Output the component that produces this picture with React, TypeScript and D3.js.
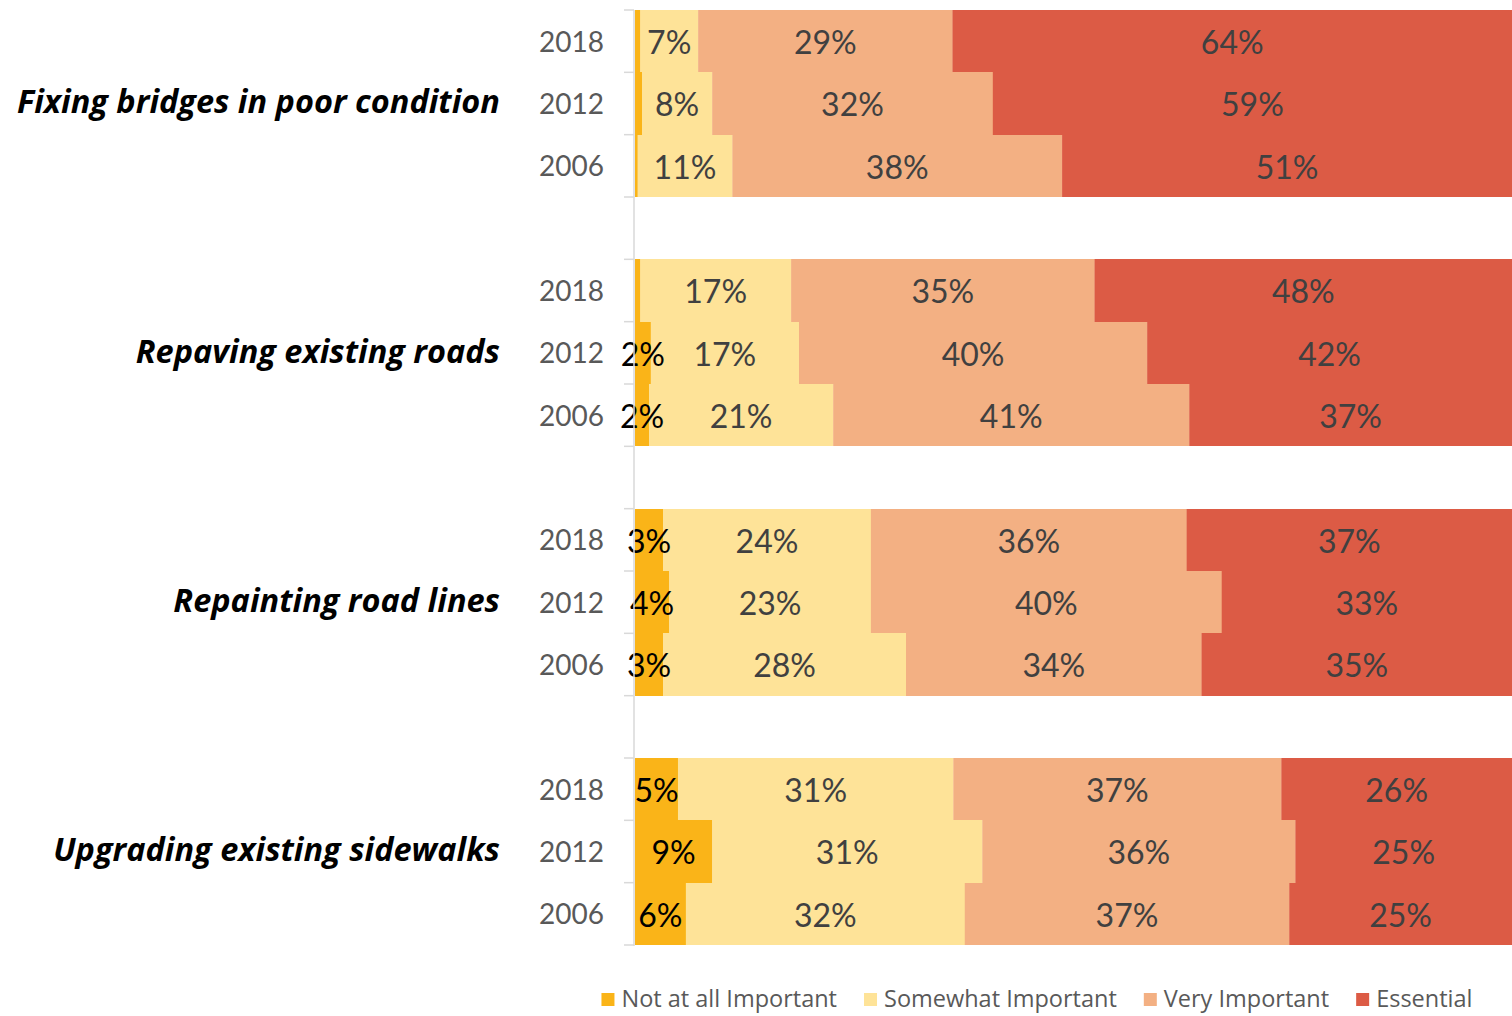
import React, { useEffect, useRef } from "react";
import * as d3 from "d3";

// Survey data (percent of respondents)
const categories = [
  "Fixing bridges in poor condition",
  "Repaving existing roads",
  "Repainting road lines",
  "Upgrading existing sidewalks",
];
const years = ["2018", "2012", "2006"];
const seriesNames = ["Not at all Important", "Somewhat Important", "Very Important", "Essential"];

// one array per series, [category][year]
const notAtAll = [
  [0.6, 0.8, 0.3],
  [0.6, 1.8, 1.6],
  [3.2, 3.9, 3.2],
  [4.9, 8.8, 5.8],
];
const somewhat = [
  [6.6, 8.0, 10.8],
  [17.2, 16.9, 21.0],
  [23.7, 23.0, 27.7],
  [31.4, 30.8, 31.8],
];
const very = [
  [29.0, 32.0, 37.6],
  [34.6, 39.7, 40.6],
  [36.0, 40.0, 33.7],
  [37.4, 35.7, 37.0],
];
const essential = [
  [63.8, 59.2, 51.3],
  [47.6, 41.6, 36.8],
  [37.1, 33.1, 35.4],
  [26.3, 24.7, 25.4],
];

const colors = ["#fab418", "#fee398", "#f3b083", "#dc5b45"];
const labelColors = ["#000000", "#404040", "#404040", "#404040"];

const App = () => {
  const svgRef = useRef<SVGSVGElement>(null);

  useEffect(() => {
    const width = 1512;
    const height = 1016;
    const margin = { top: 10, right: 0, bottom: 71, left: 635 };
    const axisX = 634;
    const font = "Lato, 'Open Sans', sans-serif";
    const font2 = "'Open Sans', sans-serif";

    const svg = d3.select(svgRef.current);
    svg.selectAll("*").remove();
    svg.attr("width", width).attr("height", height).attr("viewBox", `0 0 ${width} ${height}`);

    // row keys: 3 years per category, an empty row between categories
    const rowKeys: string[] = [];
    categories.forEach((_, ci) => {
      years.forEach((yr) => rowKeys.push(`${ci}-${yr}`));
      if (ci < categories.length - 1) rowKeys.push(`gap-${ci}`);
    });

    const y = d3.scaleBand().domain(rowKeys).range([margin.top, height - margin.bottom]).padding(0);
    const x = d3.scaleLinear().domain([0, 100]).range([margin.left, width - margin.right]);
    const y0 = (k: string) => Math.round(y(k));
    const y1 = (k: string) => Math.round(y(k) + y.bandwidth());

    const seriesData = [notAtAll, somewhat, very, essential];

    const rows = [];
    categories.forEach((_, ci) => {
      years.forEach((yr, yi) => {
        let acc = 0;
        const segs = seriesData.map((s, si) => {
          const v = s[ci][yi];
          const seg = { si, x0: acc, x1: acc + v, v };
          acc += v;
          return seg;
        });
        rows.push({ key: `${ci}-${yr}`, ci, yr, segs });
      });
    });

    // bars
    const rowG = svg.selectAll("g.row").data(rows).join("g").attr("class", "row");
    rowG.selectAll("rect")
      .data((d) => d.segs.map((s) => ({ ...s, key: d.key })))
      .join("rect")
      .attr("x", (d) => x(d.x0))
      .attr("y", (d) => y0(d.key))
      .attr("width", (d) => Math.max(0, x(Math.min(d.x1, 100)) - x(d.x0)) + 0.3)
      .attr("height", (d) => y1(d.key) - y0(d.key))
      .attr("fill", (d) => colors[d.si]);

    // value labels
    rowG.selectAll("text")
      .data((d) => d.segs.filter((s) => Math.round(s.v) >= 2).map((s) => ({ ...s, key: d.key })))
      .join("text")
      .attr("x", (d) => (x(d.x0) + x(Math.min(d.x1, 100))) / 2)
      .attr("y", (d) => y(d.key) + y.bandwidth() / 2)
      .attr("dy", "0.4em")
      .attr("text-anchor", "middle")
      .attr("font-family", font)
      .attr("font-size", 32)
      .attr("fill", (d) => labelColors[d.si])
      .text((d) => `${Math.round(d.v)}%`);

    // category axis
    const axis = svg.append("g");
    axis.append("line")
      .attr("x1", axisX).attr("x2", axisX)
      .attr("y1", margin.top).attr("y2", height - margin.bottom + 1)
      .attr("stroke", "#d9d9d9").attr("stroke-width", 1.5);
    const bounds = rowKeys.map((k) => y(k)).concat([height - margin.bottom]);
    axis.selectAll("line.tick")
      .data(bounds)
      .join("line")
      .attr("class", "tick")
      .attr("x1", axisX - 10).attr("x2", axisX)
      .attr("y1", (d) => d).attr("y2", (d) => d)
      .attr("stroke", "#d9d9d9").attr("stroke-width", 1.5);

    // year labels
    axis.selectAll("text.year")
      .data(rows)
      .join("text")
      .attr("class", "year")
      .attr("x", 604)
      .attr("y", (d) => y(d.key) + y.bandwidth() / 2)
      .attr("dy", "0.38em")
      .attr("text-anchor", "end")
      .attr("font-family", font)
      .attr("font-size", 28)
      .attr("fill", "#595959")
      .text((d) => d.yr);

    // category labels, centred on the middle year
    axis.selectAll("text.cat")
      .data(categories)
      .join("text")
      .attr("class", "cat")
      .attr("x", 500)
      .attr("y", (_, i) => y(`${i}-${years[1]}`) + y.bandwidth() / 2)
      .attr("dy", "0.3em")
      .attr("text-anchor", "end")
      .attr("font-family", font2)
      .attr("font-size", 32.5)
      .attr("font-weight", "bold")
      .attr("font-style", "italic")
      .attr("fill", "#000")
      .text((d) => d);

    // legend
    const legend = svg.append("g");
    const legendY = 999;
    const items = legend.selectAll("g").data(seriesNames).join("g");
    items.append("rect")
      .attr("width", 13).attr("height", 13)
      .attr("y", legendY - 6)
      .attr("fill", (_, i) => colors[i]);
    items.append("text")
      .attr("x", 20)
      .attr("y", legendY)
      .attr("dy", "0.35em")
      .attr("font-family", font2)
      .attr("font-size", 23.5)
      .attr("fill", "#595959")
      .text((d) => d);
    let cursor = 0;
    const offsets: number[] = [];
    items.each(function () {
      offsets.push(cursor);
      const w = (d3.select(this).select("text").node() as SVGTextElement).getComputedTextLength();
      cursor += 20 + w + 27;
    });
    const total = cursor - 27;
    const start = 1037 - total / 2;
    items.attr("transform", (_, i) => `translate(${start + offsets[i]},0)`);
  }, []);

  return (
    <div style={{ position: "absolute", left: 0, top: 0 }}>
      <svg ref={svgRef}></svg>
    </div>
  );
};

export default App;
